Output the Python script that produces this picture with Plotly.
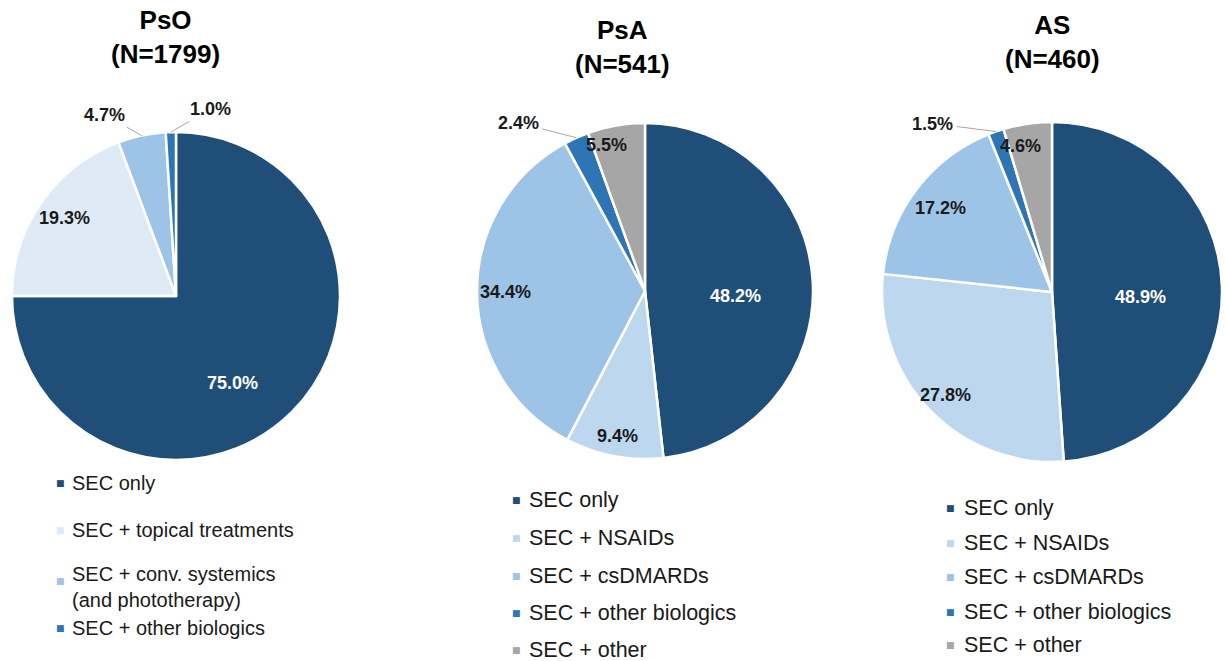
import math
import plotly.graph_objects as go

W, H = 1225, 661

# ---------------- data ----------------
diseases = ["PsO", "PsA", "AS"]
n_patients = [1799, 541, 460]

pso_labels = ["SEC only", "SEC + topical treatments",
              "SEC + conv. systemics<br>(and phototherapy)", "SEC + other biologics"]
pso_values = [75.0, 19.3, 4.7, 1.0]

psa_labels = ["SEC only", "SEC + NSAIDs", "SEC + csDMARDs", "SEC + other biologics", "SEC + other"]
psa_values = [48.2, 9.4, 34.4, 2.4, 5.5]

as_labels = ["SEC only", "SEC + NSAIDs", "SEC + csDMARDs", "SEC + other biologics", "SEC + other"]
as_values = [48.9, 27.8, 17.2, 1.5, 4.6]

# ---------------- style ----------------
NAVY = "#1F4E79"
pso_colors = [NAVY, "#DEEBF7", "#9DC3E6", "#2E75B6"]
ra_colors = [NAVY, "#BDD7EE", "#9DC3E6", "#2E75B6", "#A6A6A6"]

FONT = "Liberation Sans, Arial, sans-serif"
TXT = "#1a1a1a"


def px(x):
    return x / W


def py(y):
    return 1 - y / H


# label placement styles: radial fraction / angle nudge (deg) per slice,
# or leader-line text offset (px) for tiny slices
panels = [
    dict(labels=pso_labels, values=pso_values, colors=pso_colors,
         box=(12, 132, 340, 460),
         label_rf=[0.63, 0.83, None, None], label_dt=[12, 0, 0, 0],
         leader={2: (-37, -21), 3: (40, -23)},
         title_xy=(166, 37),
         leg_marker_x=60, leg_text_x=70, leg_rows=[483, 530, 587, 628],
         leg_marker_dy=[0, 0, -6, 0], leg_size=20),
    dict(labels=psa_labels, values=psa_values, colors=ra_colors,
         box=(477, 123, 813, 459),
         label_rf=[0.54, 0.88, 0.83, None, 0.9], label_dt=[6, 0, 0, 0, -5],
         leader={3: (-58, -15)},
         title_xy=(622, 47),
         leg_marker_x=516, leg_text_x=527, leg_rows=[500, 538, 576, 613, 650],
         leg_marker_dy=[0, 0, 0, 0, 0], leg_size=21.5),
    dict(labels=as_labels, values=as_values, colors=ra_colors,
         box=(882, 122, 1222, 462),
         label_rf=[0.52, 0.87, 0.82, None, 0.88], label_dt=[5, 0, 0, 0, -4],
         leader={3: (-63, -8)},
         title_xy=(1052, 42),
         leg_marker_x=950, leg_text_x=962, leg_rows=[508, 543, 577, 612, 645],
         leg_marker_dy=[0, 0, 0, 0, 0], leg_size=21.5),
]

fig = go.Figure()
annotations = []

for k, p in enumerate(panels):
    l, t, r, b = p["box"]
    vals = p["values"]
    fig.add_trace(go.Pie(
        labels=p["labels"], values=vals,
        sort=False, direction="clockwise", rotation=0,
        marker=dict(colors=p["colors"], line=dict(color="white", width=2.5)),
        textinfo="none",
        domain=dict(x=[px(l), px(r)], y=[py(b), py(t)]),
        showlegend=False, hoverinfo="label+value",
    ))

    # data labels, placed from each slice's mid-angle (derived from the data)
    cx, cy = (l + r) / 2, (t + b) / 2
    rad = min(r - l, b - t) / 2
    total = sum(vals)
    cum = 0.0
    for i, v in enumerate(vals):
        mid = (cum + v / 2) / total * 2 * math.pi
        cum += v
        label = f"<b>{v:.1f}%</b>"
        if i in p["leader"]:
            ex = cx + rad * math.sin(mid)
            ey = cy - rad * math.cos(mid)
            ax, ay = p["leader"][i]
            annotations.append(dict(
                x=px(ex), y=py(ey), xref="paper", yref="paper",
                ax=ax, ay=ay, showarrow=True, arrowhead=0, arrowwidth=1,
                arrowcolor="#A6A6A6", standoff=0, startstandoff=2,
                text=label, font=dict(family=FONT, size=18, color=TXT),
            ))
        else:
            ang = mid + math.radians(p["label_dt"][i])
            rr = rad * p["label_rf"][i]
            lx = cx + rr * math.sin(ang)
            ly = cy - rr * math.cos(ang)
            annotations.append(dict(
                x=px(lx), y=py(ly), xref="paper", yref="paper", showarrow=False,
                xanchor="center", yanchor="middle", text=label,
                font=dict(family=FONT, size=18, color="white" if i == 0 else TXT),
            ))

    # title
    tx, ty = p["title_xy"]
    annotations.append(dict(
        x=px(tx), y=py(ty), xref="paper", yref="paper", showarrow=False,
        xanchor="center", yanchor="middle", align="center",
        text=f"<b>{diseases[k]}</b><br><b>(N={n_patients[k]})</b>",
        font=dict(family=FONT, size=26, color="black"),
    ))

    # legend
    for i, lab in enumerate(p["labels"]):
        yy = p["leg_rows"][i]
        annotations.append(dict(
            x=px(p["leg_marker_x"]), y=py(yy + p["leg_marker_dy"][i]),
            xref="paper", yref="paper",
            showarrow=False, xanchor="center", yanchor="middle",
            text="■", font=dict(family="DejaVu Sans", size=9, color=p["colors"][i]),
        ))
        annotations.append(dict(
            x=px(p["leg_text_x"]), y=py(yy), xref="paper", yref="paper",
            showarrow=False, xanchor="left", yanchor="middle", align="left",
            text=lab, font=dict(family=FONT, size=p["leg_size"], color=TXT),
        ))

fig.update_layout(
    width=W, height=H,
    margin=dict(l=0, r=0, t=0, b=0),
    paper_bgcolor="white", plot_bgcolor="white",
    annotations=annotations,
    showlegend=False,
)

fig.write_html("out.html", config={"displayModeBar": False},
               post_script="document.body.style.margin='0';")
